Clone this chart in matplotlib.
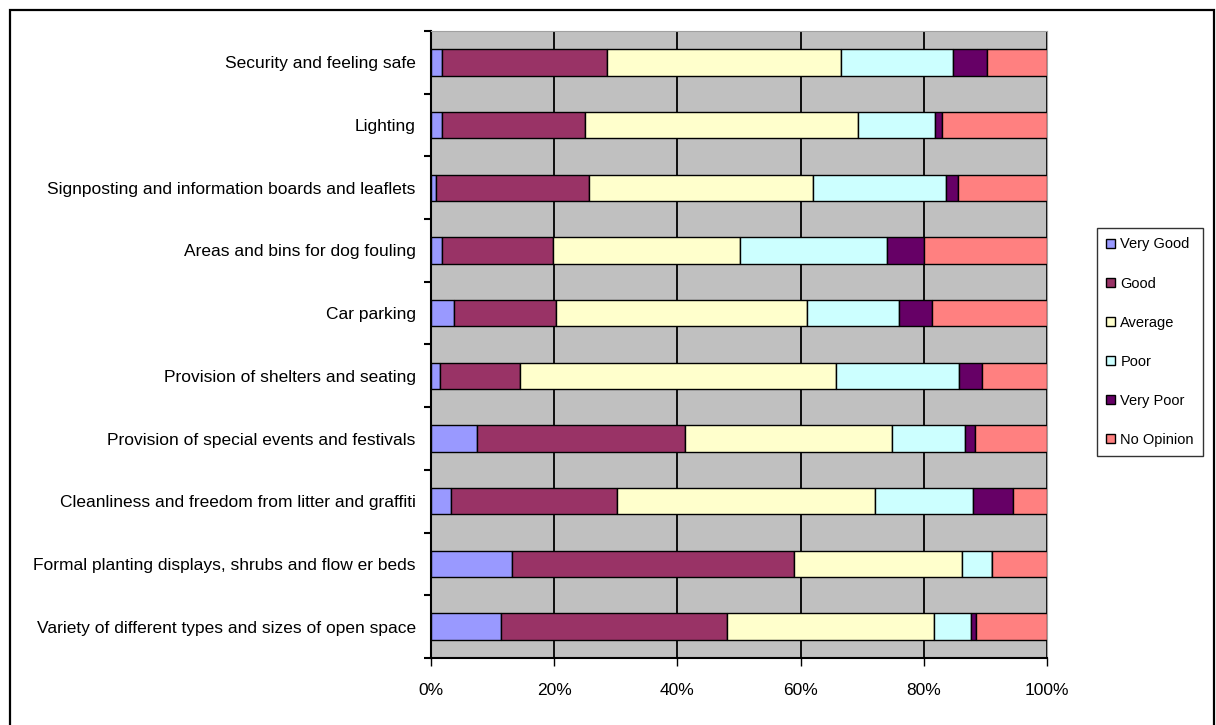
import matplotlib
matplotlib.use("Agg")
import matplotlib.pyplot as plt
from matplotlib.patches import Patch, Rectangle
import numpy as np

plt.rcParams['font.family'] = ['Liberation Sans', 'DejaVu Sans']
FS = 12.5
LEG_FS = 10.5

categories = [
    "Security and feeling safe",
    "Lighting",
    "Signposting and information boards and leaflets",
    "Areas and bins for dog fouling",
    "Car parking",
    "Provision of shelters and seating",
    "Provision of special events and festivals",
    "Cleanliness and freedom from litter and graffiti",
    "Formal planting displays, shrubs and flow er beds",
    "Variety of different types and sizes of open space",
]

series_names = ["Very Good", "Good", "Average", "Poor", "Very Poor", "No Opinion"]

# Percentages per category (top to bottom)
very_good = [1.8, 1.8, 0.8, 1.8, 3.8, 1.5, 7.4, 3.3, 13.1, 11.3]
good = [26.8, 23.2, 24.9, 18.0, 16.5, 12.9, 33.8, 26.9, 45.8, 36.8]
average = [38.0, 44.3, 36.3, 30.4, 40.7, 51.3, 33.7, 41.8, 27.3, 33.5]
poor = [18.1, 12.5, 21.6, 23.9, 14.9, 20.0, 11.8, 16.0, 4.9, 6.1]
very_poor = [5.6, 1.1, 1.9, 6.0, 5.5, 3.7, 1.6, 6.4, 0.0, 0.8]
no_opinion = [9.7, 17.1, 14.5, 19.9, 18.6, 10.6, 11.7, 5.6, 8.9, 11.5]

colors = ["#9999FF", "#993366", "#FFFFCC", "#CCFFFF", "#660066", "#FF8080"]

series = [very_good, good, average, poor, very_poor, no_opinion]

fig = plt.figure(figsize=(12.16, 7.25), dpi=100)

# Outer chart border (runs past the lower edge of the canvas)
fig.patches.append(Rectangle((10 / 1216, -10 / 725), 1204 / 1216, 725 / 725,
                             transform=fig.transFigure, fill=False,
                             edgecolor="black", linewidth=1.6, zorder=0))

ax = fig.add_axes([431 / 1216, 67 / 725, 616 / 1216, 627 / 725])
ax.set_facecolor("#C0C0C0")

n = len(categories)
y = np.arange(n)
left = np.zeros(n)
for name, vals, c in zip(series_names, series, colors):
    vals = np.array(vals)
    ax.barh(y, vals, left=left, height=0.42, color=c, edgecolor="black",
            linewidth=1.0, label=name, zorder=3)
    left += vals

ax.set_xlim(0, 100)
ax.set_ylim(n - 0.5, -0.5)

ax.set_xticks(np.arange(0, 101, 20))
ax.set_xticklabels([f"{v}%" for v in range(0, 101, 20)], fontsize=FS)
ax.tick_params(axis="x", direction="out", length=6, width=1, pad=12)
ax.xaxis.grid(True, color="black", linewidth=1.3, zorder=1)
ax.set_axisbelow(True)

# Category separators as major ticks, names on minor ticks
ax.set_yticks(np.arange(-0.5, n, 1.0))
ax.set_yticklabels([])
ax.tick_params(axis="y", which="major", direction="out", length=5, width=1.5)
ax.set_yticks(y, minor=True)
ax.set_yticklabels(categories, minor=True, fontsize=FS)
ax.tick_params(axis="y", which="minor", length=0, pad=11)

for s in ["top", "right"]:
    ax.spines[s].set_color("#A0A0A0")
for s in ["left", "bottom"]:
    ax.spines[s].set_color("black")
    ax.spines[s].set_linewidth(1.5)

handles = [Patch(facecolor=c, edgecolor="black", linewidth=1.0) for c in colors]
leg = fig.legend(handles, series_names, loc="upper left",
                 bbox_to_anchor=(1097 / 1216, 1 - 228 / 725),
                 fontsize=LEG_FS, frameon=True, fancybox=False, edgecolor="black",
                 handlelength=0.6, handleheight=0.6, handletextpad=0.35,
                 labelspacing=1.72, borderpad=0.65, borderaxespad=0)
leg.get_frame().set_linewidth(1.0)

fig.savefig("out.png", dpi=100)
